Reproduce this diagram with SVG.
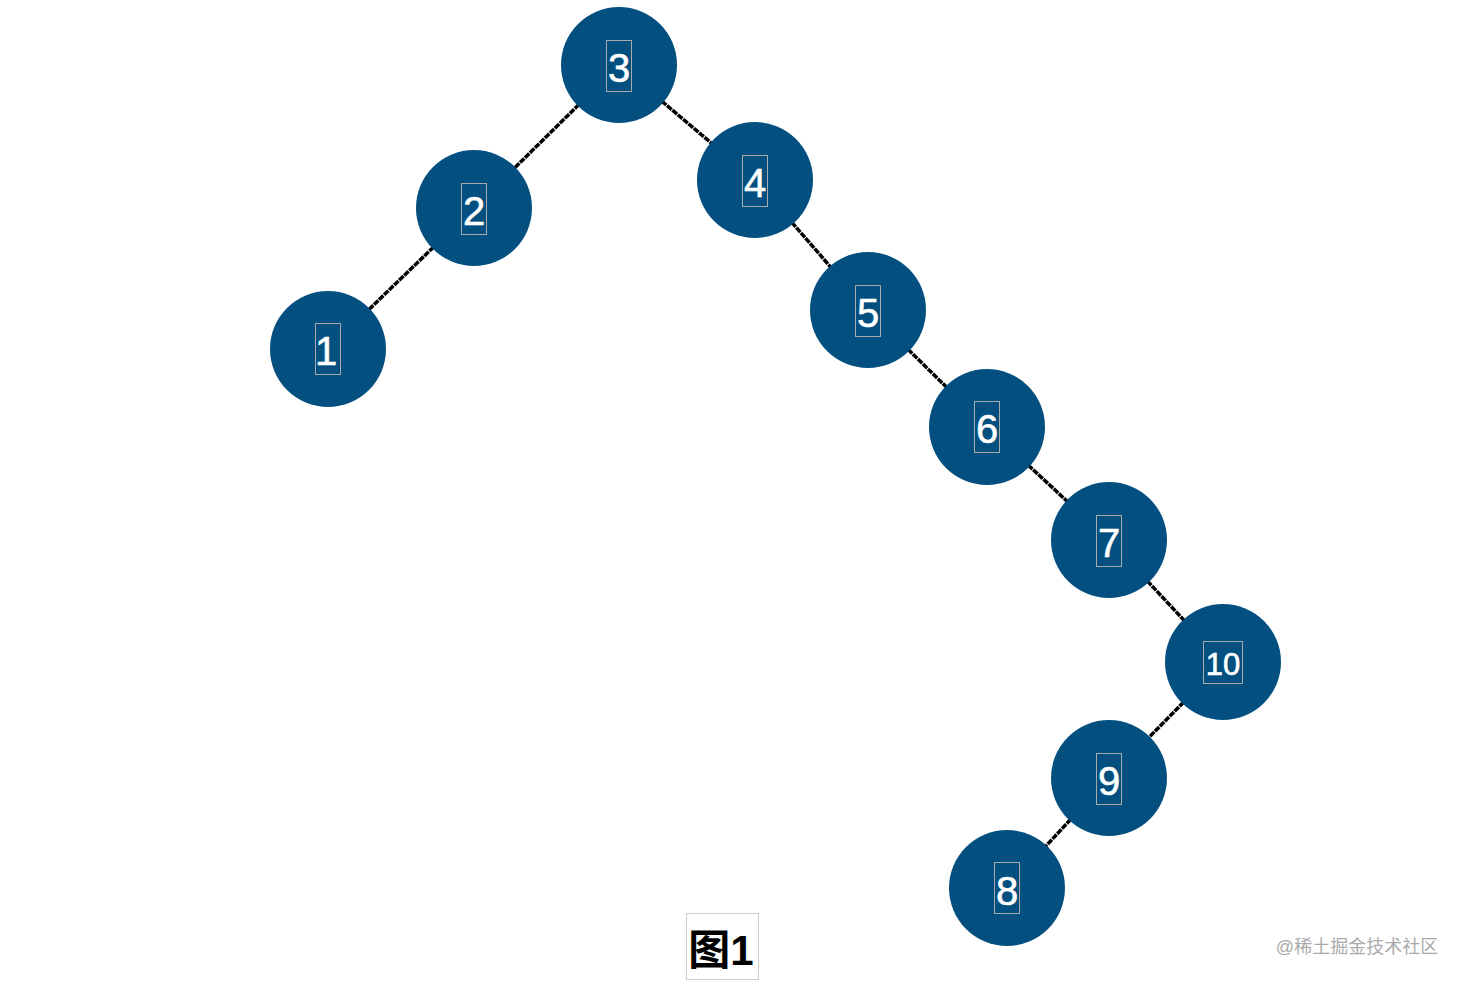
<svg xmlns="http://www.w3.org/2000/svg" width="1464" height="984" viewBox="0 0 1464 984">
<style>
.n{fill:#034f7f}
.t{fill:#fff;font-family:"Liberation Sans",Arial,sans-serif;font-size:40px;text-anchor:middle;stroke:#fff;stroke-width:0.6}
.t2{font-size:31px}
.b{fill:none;stroke:#aaa;stroke-width:1}
.e{stroke:#000;stroke-width:3.5;stroke-dasharray:6 1}
</style>
<rect width="1464" height="984" fill="#fff"/>
<g id="edges">
<line class="e" x1="619" y1="65" x2="474" y2="208"/>
<line class="e" x1="474" y1="208" x2="328" y2="349"/>
<line class="e" x1="619" y1="65" x2="755" y2="180"/>
<line class="e" x1="755" y1="180" x2="868" y2="310"/>
<line class="e" x1="868" y1="310" x2="987" y2="427"/>
<line class="e" x1="987" y1="427" x2="1109" y2="540"/>
<line class="e" x1="1109" y1="540" x2="1223" y2="662"/>
<line class="e" x1="1223" y1="662" x2="1109" y2="778"/>
<line class="e" x1="1109" y1="778" x2="1007" y2="888"/>
</g>
<g id="node3"><circle class="n" cx="619" cy="65" r="58"/><rect class="b" x="606.5" y="40.5" width="25" height="51"/><text class="t" x="619" y="82">3</text></g>
<g id="node2"><circle class="n" cx="474" cy="208" r="58"/><rect class="b" x="461.5" y="183.5" width="25" height="51"/><text class="t" x="474" y="225">2</text></g>
<g id="node1"><circle class="n" cx="328" cy="349" r="58"/><rect class="b" x="315.5" y="323.5" width="25" height="51"/><text class="t" x="326" y="365">1</text></g>
<g id="node4"><circle class="n" cx="755" cy="180" r="58"/><rect class="b" x="742.5" y="155.5" width="25" height="51"/><text class="t" x="755" y="197">4</text></g>
<g id="node5"><circle class="n" cx="868" cy="310" r="58"/><rect class="b" x="855.5" y="285.5" width="25" height="51"/><text class="t" x="868" y="327">5</text></g>
<g id="node6"><circle class="n" cx="987" cy="427" r="58"/><rect class="b" x="974.5" y="401.5" width="25" height="51"/><text class="t" x="987" y="443">6</text></g>
<g id="node7"><circle class="n" cx="1109" cy="540" r="58"/><rect class="b" x="1096.5" y="515.5" width="25" height="51"/><text class="t" x="1109" y="557">7</text></g>
<g id="node10"><circle class="n" cx="1223" cy="662" r="58"/><rect class="b" x="1203.5" y="641.5" width="39" height="42"/><text class="t t2" x="1223" y="675">10</text></g>
<g id="node9"><circle class="n" cx="1109" cy="778" r="58"/><rect class="b" x="1096.5" y="753.5" width="25" height="51"/><text class="t" x="1109" y="795">9</text></g>
<g id="node8"><circle class="n" cx="1007" cy="888" r="58"/><rect class="b" x="994.5" y="862.5" width="25" height="51"/><text class="t" x="1007" y="905">8</text></g>
<g id="caption"><rect x="686.5" y="913.5" width="72" height="66" fill="none" stroke="#ccc" stroke-width="1"/><text x="721" y="965" text-anchor="middle" font-family="'Liberation Sans','Noto Sans CJK SC',sans-serif" font-size="42" font-weight="bold">图1</text></g>
<text x="1357" y="953" text-anchor="middle" font-family="'Liberation Sans','Noto Sans CJK SC',sans-serif" font-size="18" fill="#aaa">@稀土掘金技术社区</text>
</svg>
